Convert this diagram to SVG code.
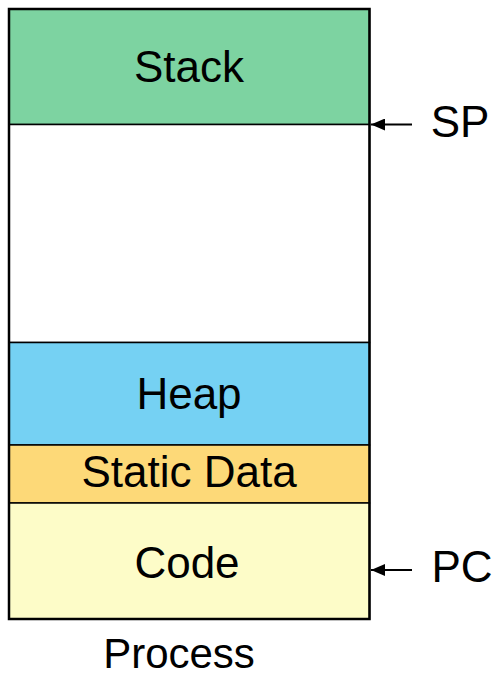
<svg xmlns="http://www.w3.org/2000/svg" width="495" height="677" viewBox="0 0 495 677">
<style>
.t{font-family:"Liberation Sans",Arial,sans-serif;font-size:44px;fill:#000;text-anchor:middle}
.seg{stroke:#000;stroke-width:1.5}
.c{stroke:#000;stroke-width:2;fill:none}
</style>
<defs>
<marker id="ah" viewBox="0 0 14 12" refX="14" refY="6" markerWidth="14" markerHeight="12" markerUnits="userSpaceOnUse" orient="auto">
<path d="M0,0 L14,6 L0,12 Z" fill="#000"/>
</marker>
</defs>
<rect x="0" y="0" width="495" height="677" fill="#fff"/>
<g id="stack"><rect class="seg" x="9" y="9" width="360.5" height="115.5" fill="#7DD3A1"/><text class="t" x="189" y="82">Stack</text></g>
<g id="free"><rect class="seg" x="9" y="124.5" width="360.5" height="218" fill="#fff"/></g>
<g id="heap"><rect class="seg" x="9" y="342.5" width="360.5" height="102.5" fill="#75D1F3"/><text class="t" x="189" y="409">Heap</text></g>
<g id="static"><rect class="seg" x="9" y="445" width="360.5" height="58" fill="#FDD978"/><text class="t" x="189" y="487">Static Data</text></g>
<g id="code"><rect class="seg" x="9" y="503" width="360.5" height="116" fill="#FDFCC8"/><text class="t" x="187" y="578">Code</text></g>
<rect x="9" y="9" width="360.5" height="610" fill="none" stroke="#000" stroke-width="2.5"/>
<g id="sp"><text class="t" x="460" y="137">SP</text></g>
<g id="pc"><text class="t" x="462" y="582">PC</text></g>
<g id="process"><text class="t" x="179" y="668" style="font-size:42px">Process</text></g>
<g id="connectors">
<line class="c" x1="412" y1="124.5" x2="371" y2="124.5" marker-end="url(#ah)"/>
<line class="c" x1="412" y1="570" x2="371" y2="570" marker-end="url(#ah)"/>
</g>
</svg>
